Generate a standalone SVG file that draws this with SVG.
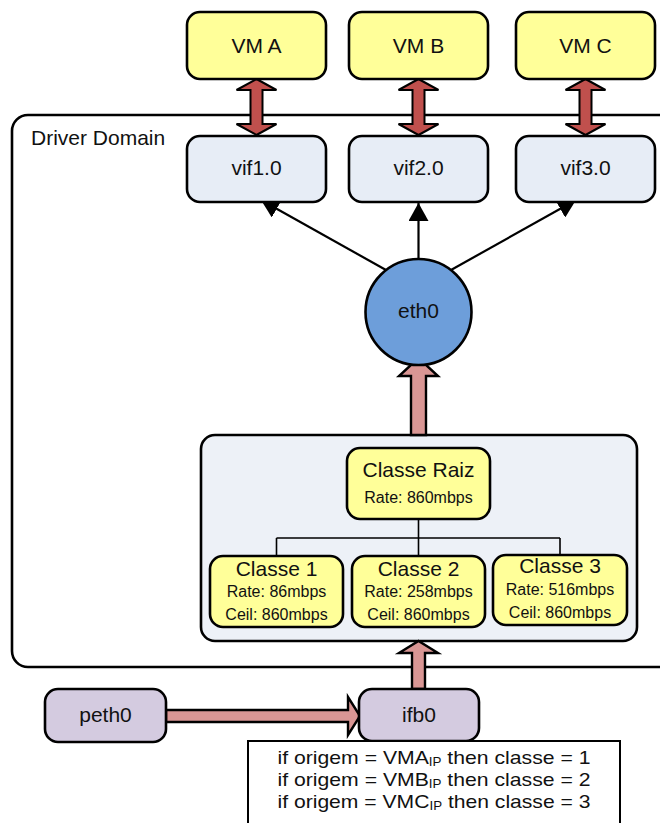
<svg xmlns="http://www.w3.org/2000/svg" width="660" height="823" viewBox="0 0 660 823">
<defs>
<style>
text{font-family:"Liberation Sans",Arial,sans-serif;fill:#111;text-anchor:middle}
.t{font-size:21px}
.s{font-size:16px}
.box{stroke:#000;stroke-width:2.6}
.vm{fill:#ffff99}
.vif{fill:#e7edf6}
.cls{fill:#ffff99}
.lav{fill:#d4cbe0}
.red{fill:#c0504d;stroke:#000;stroke-width:2}
.pink{fill:#d99694;stroke:#000;stroke-width:2.4}
.ln{stroke:#000;stroke-width:2.2;fill:none}
.tree{stroke:#000;stroke-width:1.6;fill:none}
.rule{font-family:"Liberation Sans Narrow","Liberation Sans",Arial,sans-serif;font-size:19px}
</style>
<marker id="ah" viewBox="0 0 18 20" refX="18" refY="10" markerWidth="18" markerHeight="20" markerUnits="userSpaceOnUse" orient="auto">
<path d="M0,0 L18,10 L0,20 Z" fill="#000"/>
</marker>
</defs>
<rect x="0" y="0" width="660" height="823" fill="#fff"/>

<g id="driver-domain">
<rect x="12" y="115" width="720" height="552" rx="16" fill="none" stroke="#000" stroke-width="2.6"/>
<text x="31" y="145" class="t" style="text-anchor:start">Driver Domain</text>
</g>

<g id="htb">
<rect class="box" x="201" y="435" width="436" height="206" rx="14" fill="#edf1f7"/>
</g>

<g id="connectors">
<path class="red" d="M256.5,79 L276.5,90 L262.5,90 L262.5,124 L276.5,124 L256.5,135 L236.5,124 L250.5,124 L250.5,90 L236.5,90 Z"/>
<path class="red" d="M418.5,79 L438.5,90 L424.5,90 L424.5,124 L438.5,124 L418.5,135 L398.5,124 L412.5,124 L412.5,90 L398.5,90 Z"/>
<path class="red" d="M585.5,79 L605.5,90 L591.5,90 L591.5,124 L605.5,124 L585.5,135 L565.5,124 L579.5,124 L579.5,90 L565.5,90 Z"/>
<line class="ln" x1="386" y1="270" x2="261" y2="200" marker-end="url(#ah)"/>
<line class="ln" x1="418.5" y1="259" x2="418.5" y2="203" marker-end="url(#ah)"/>
<line class="ln" x1="451" y1="270" x2="576" y2="200" marker-end="url(#ah)"/>
<path class="pink" d="M411,435 L411,376 L399,376 L418.5,358 L438,376 L426,376 L426,435 Z"/>
<path class="pink" d="M412,689 L412,653 L399,653 L418.5,641 L438,653 L425,653 L425,689 Z"/>
<path class="pink" d="M166,710 L348,710 L348,697 L360,716 L348,735 L348,722 L166,722 Z"/>
<path class="tree" d="M418.5,519 L418.5,556 M276.5,538 L560,538 M276.5,538 L276.5,556 M560,538 L560,555"/>
</g>

<g id="vm-a"><rect class="box vm" x="187" y="12" width="139" height="67" rx="13"/><text class="t" x="256.5" y="53">VM A</text></g>
<g id="vm-b"><rect class="box vm" x="349" y="12" width="139" height="67" rx="13"/><text class="t" x="418.5" y="53">VM B</text></g>
<g id="vm-c"><rect class="box vm" x="516" y="12" width="139" height="67" rx="13"/><text class="t" x="585.5" y="53">VM C</text></g>

<g id="vif1"><rect class="box vif" x="187" y="136" width="139" height="66" rx="13"/><text class="t" x="256.5" y="175">vif1.0</text></g>
<g id="vif2"><rect class="box vif" x="349" y="136" width="139" height="66" rx="13"/><text class="t" x="418.5" y="175">vif2.0</text></g>
<g id="vif3"><rect class="box vif" x="516" y="136" width="139" height="66" rx="13"/><text class="t" x="585.5" y="175">vif3.0</text></g>

<g id="eth0"><circle class="box" cx="418.5" cy="312" r="53" fill="#6d9eda"/><text class="t" x="418.5" y="318">eth0</text></g>

<g id="classe-raiz"><rect class="box cls" x="347" y="448" width="143" height="71" rx="13"/><text class="t" x="418.5" y="477">Classe Raiz</text><text class="s" x="418.5" y="503">Rate: 860mbps</text></g>
<g id="classe-1"><rect class="box cls" x="210" y="556" width="133" height="71" rx="13"/><text class="t" x="276.5" y="576">Classe 1</text><text class="s" x="276.5" y="597">Rate: 86mbps</text><text class="s" x="276.5" y="620">Ceil: 860mbps</text></g>
<g id="classe-2"><rect class="box cls" x="352" y="556" width="133" height="71" rx="13"/><text class="t" x="418.5" y="576">Classe 2</text><text class="s" x="418.5" y="597">Rate: 258mbps</text><text class="s" x="418.5" y="620">Ceil: 860mbps</text></g>
<g id="classe-3"><rect class="box cls" x="493" y="555" width="134" height="70" rx="13"/><text class="t" x="560" y="573">Classe 3</text><text class="s" x="560" y="595">Rate: 516mbps</text><text class="s" x="560" y="618">Ceil: 860mbps</text></g>

<g id="peth0"><rect class="box lav" x="45" y="689" width="121" height="53" rx="13"/><text class="t" x="105.5" y="722">peth0</text></g>
<g id="ifb0"><rect class="box lav" x="359" y="689" width="120" height="52" rx="13"/><text class="t" x="419" y="722">ifb0</text></g>

<g id="rules">
<rect x="248" y="741" width="372" height="95" fill="#fff" stroke="#000" stroke-width="2"/>
<text class="rule" x="434" y="764" textLength="313" lengthAdjust="spacingAndGlyphs">if origem = VMA<tspan font-size="12" dy="2">IP</tspan><tspan dy="-2"> then classe = 1</tspan></text>
<text class="rule" x="434" y="786" textLength="313" lengthAdjust="spacingAndGlyphs">if origem = VMB<tspan font-size="12" dy="2">IP</tspan><tspan dy="-2"> then classe = 2</tspan></text>
<text class="rule" x="434" y="808" textLength="313" lengthAdjust="spacingAndGlyphs">if origem = VMC<tspan font-size="12" dy="2">IP</tspan><tspan dy="-2"> then classe = 3</tspan></text>
</g>
</svg>
